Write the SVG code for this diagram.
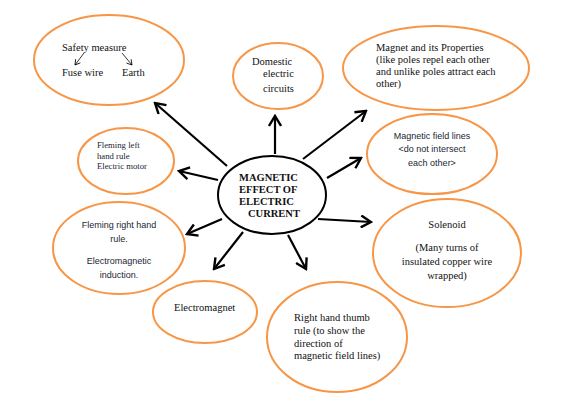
<svg xmlns="http://www.w3.org/2000/svg" width="561" height="416" viewBox="0 0 561 416">
<style>
.o{fill:#fff;stroke:#F79646;stroke-width:2}
.c{fill:#fff;stroke:#000;stroke-width:2}
.s{font-family:"Liberation Serif","Times New Roman",serif;font-size:10.5px;fill:#111}
.sm{font-family:"Liberation Serif","Times New Roman",serif;font-size:8.7px;fill:#1a1f33}
.a{font-family:"Liberation Sans",Arial,sans-serif;font-size:9px;fill:#1a1f33}
.b{font-family:"Liberation Serif","Times New Roman",serif;font-size:10.5px;font-weight:bold;fill:#111}
.m{text-anchor:middle}
.ln{stroke:#000;stroke-width:2.2;fill:none;marker-end:url(#ah)}
.thin{stroke:#000;stroke-width:0.8;fill:none;marker-end:url(#sh)}
</style>
<defs>
<marker id="ah" markerUnits="userSpaceOnUse" viewBox="-12 -7 14 14" refX="0" refY="0" markerWidth="14" markerHeight="14" orient="auto">
<path d="M-10,-6 L0,0 L-10,6" fill="none" stroke="#000" stroke-width="2.4" stroke-linejoin="miter"/>
</marker>
<marker id="sh" markerUnits="userSpaceOnUse" viewBox="-6 -4 8 8" refX="0" refY="0" markerWidth="8" markerHeight="8" orient="auto">
<path d="M-5,-3 L0,0 L-5,3" fill="none" stroke="#000" stroke-width="0.8"/>
</marker>
</defs>
<g id="connectors">
<line class="ln" x1="227" y1="166" x2="155" y2="103"/>
<line class="ln" x1="275" y1="154" x2="275" y2="116"/>
<line class="ln" x1="303" y1="159" x2="366" y2="111"/>
<line class="ln" x1="327" y1="178" x2="361" y2="158"/>
<line class="ln" x1="218" y1="180" x2="179" y2="171"/>
<line class="ln" x1="222" y1="219" x2="187" y2="234"/>
<line class="ln" x1="243" y1="232" x2="214" y2="269"/>
<line class="ln" x1="288" y1="235" x2="306" y2="269"/>
<line class="ln" x1="318" y1="219" x2="371" y2="222"/>
</g>
<g id="center">
<ellipse class="c" cx="272" cy="195" rx="54" ry="39"/>
<text class="b" x="239" y="181">MAGNETIC</text>
<text class="b" x="239" y="193">EFFECT OF</text>
<text class="b" x="239" y="205">ELECTRIC</text>
<text class="b" x="248" y="217">CURRENT</text>
</g>
<g id="safety">
<ellipse class="o" cx="109" cy="60" rx="75" ry="45"/>
<text class="s" x="62" y="51">Safety measure</text>
<text class="s" x="62" y="76">Fuse wire</text>
<text class="s" x="122" y="76">Earth</text>
<line class="thin" x1="84" y1="53" x2="75" y2="65"/>
<line class="thin" x1="122" y1="53" x2="132" y2="65"/>
</g>
<g id="domestic">
<ellipse class="o" cx="278" cy="76" rx="45" ry="33"/>
<text class="s" x="252" y="65">Domestic</text>
<text class="s" x="263" y="77">electric</text>
<text class="s" x="263" y="92">circuits</text>
</g>
<g id="magnet">
<ellipse class="o" cx="436" cy="68" rx="93" ry="42"/>
<text class="s" x="376" y="51">Magnet and its Properties</text>
<text class="s" x="376" y="63">(like poles repel each other</text>
<text class="s" x="376" y="75">and unlike poles attract each</text>
<text class="s" x="376" y="87">other)</text>
</g>
<g id="fieldlines">
<ellipse class="o" cx="432" cy="154" rx="65" ry="40"/>
<text class="a m" x="432" y="139">Magnetic field lines</text>
<text class="a m" x="432" y="152">&lt;do not intersect</text>
<text class="a m" x="432" y="166">each other&gt;</text>
</g>
<g id="flemingleft">
<ellipse class="o" cx="126" cy="161" rx="48" ry="33"/>
<text class="sm" x="97" y="148">Fleming left</text>
<text class="sm" x="97" y="159">hand rule</text>
<text class="sm" x="97" y="169">Electric motor</text>
</g>
<g id="flemingright">
<ellipse class="o" cx="119" cy="248" rx="66" ry="46"/>
<text class="a m" x="119" y="228">Fleming right hand</text>
<text class="a m" x="119" y="242">rule.</text>
<text class="a m" x="119" y="264">Electromagnetic</text>
<text class="a m" x="119" y="278">induction.</text>
</g>
<g id="electromagnet">
<ellipse class="o" cx="205" cy="312" rx="52" ry="31"/>
<text class="s" x="174" y="311">Electromagnet</text>
</g>
<g id="solenoid">
<ellipse class="o" cx="447" cy="253" rx="74" ry="54"/>
<text class="s m" x="447" y="228">Solenoid</text>
<text class="s m" x="447" y="251">(Many turns of</text>
<text class="s m" x="447" y="265">insulated copper wire</text>
<text class="s m" x="447" y="279">wrapped)</text>
</g>
<g id="thumb">
<ellipse class="o" cx="337" cy="337" rx="70" ry="55"/>
<text class="s" x="294" y="321">Right hand thumb</text>
<text class="s" x="294" y="334">rule (to show the</text>
<text class="s" x="294" y="347">direction of</text>
<text class="s" x="294" y="359">magnetic field lines)</text>
</g>
</svg>
